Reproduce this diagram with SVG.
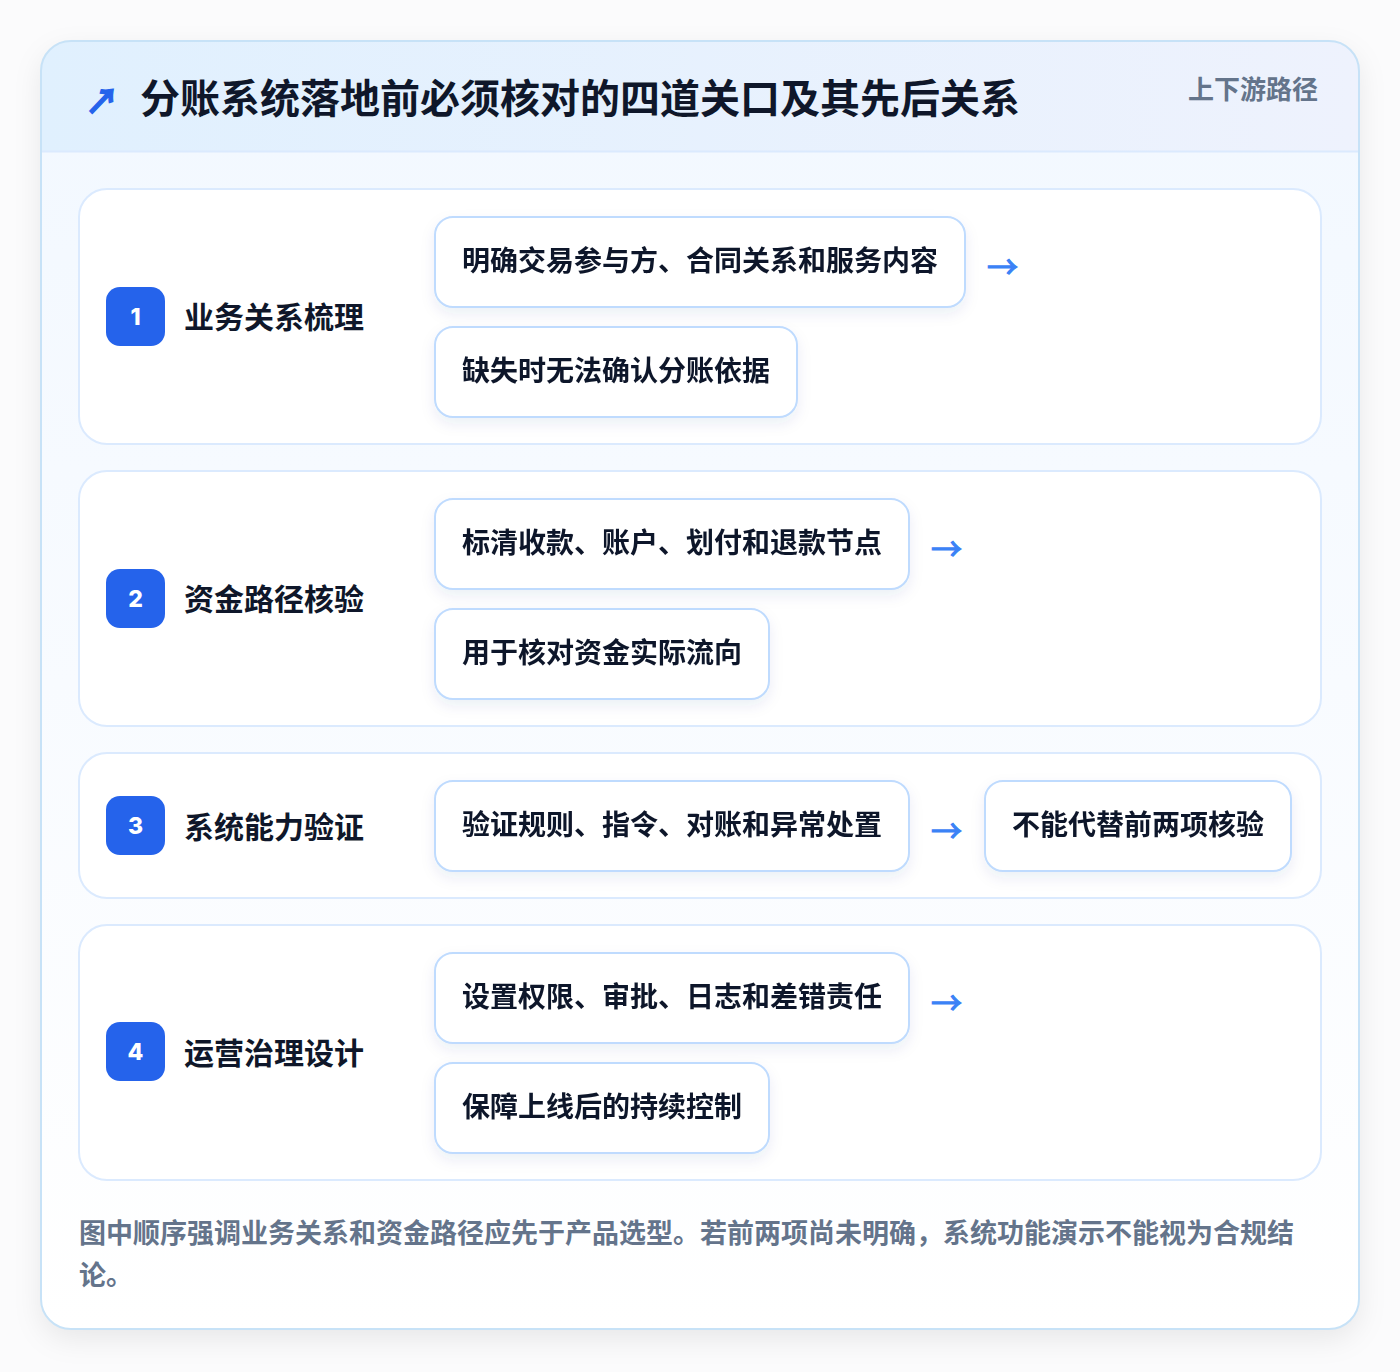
<svg xmlns="http://www.w3.org/2000/svg" width="1400" height="1372" viewBox="0 0 1400 1372">
<defs>
<style>
.cjk{font-family:"Noto Sans CJK SC","Noto Sans",sans-serif;font-weight:700}
.row{fill:#ffffff;stroke:#dbeafe;stroke-width:2}
.pill{fill:#ffffff;stroke:#bfdbfe;stroke-width:2}
.pt{font-size:28px;fill:#0f172a}
.lbl{font-size:30px;fill:#0f172a}
.badge{fill:#2563eb}
.bn{font-family:"Inter","Liberation Sans",sans-serif;font-weight:800;font-size:23px;fill:#ffffff}
.arr{font-family:"Noto Sans CJK SC",sans-serif;font-size:31px;fill:#3b82f6;stroke:#3b82f6;stroke-width:1.1}
</style>
<linearGradient id="hdr" x1="0" y1="0" x2="1" y2="0">
<stop offset="0" stop-color="#e0f0fe"/>
<stop offset="1" stop-color="#eef2fd"/>
</linearGradient>
<linearGradient id="body" x1="0" y1="0" x2="0" y2="1">
<stop offset="0" stop-color="#f2f8ff"/>
<stop offset="0.5" stop-color="#f8fbff"/>
<stop offset="1" stop-color="#ffffff"/>
</linearGradient>
<filter id="sh" x="-10%" y="-10%" width="120%" height="125%">
<feDropShadow dx="0" dy="10" stdDeviation="14" flood-color="#0f172a" flood-opacity="0.08"/>
</filter>
<filter id="psh" x="-10%" y="-20%" width="120%" height="160%">
<feDropShadow dx="0" dy="6" stdDeviation="7" flood-color="#1e3a8a" flood-opacity="0.08"/>
</filter>
<clipPath id="cardclip"><rect x="41" y="41" width="1318" height="1288" rx="30"/></clipPath>
</defs>
<rect width="1400" height="1372" fill="#fbfbfc"/>
<g id="card">
<rect x="41" y="41" width="1318" height="1288" rx="30" fill="url(#body)" filter="url(#sh)"/>
<g clip-path="url(#cardclip)">
<rect x="41" y="41" width="1318" height="111" fill="url(#hdr)"/>
<line x1="41" y1="151.5" x2="1359" y2="151.5" stroke="#dbeafe" stroke-width="2"/>
</g>
<rect x="41" y="41" width="1318" height="1288" rx="30" fill="none" stroke="#c7e2f7" stroke-width="2"/>
</g>
<g id="header">
<text x="85" y="114" font-family="Noto Sans CJK SC,sans-serif" font-size="34" fill="#2563eb" stroke="#2563eb" stroke-width="1.3" font-weight="700">↗</text>
<text x="140" y="113" class="cjk" font-size="40" fill="#0f172a">分账系统落地前必须核对的四道关口及其先后关系</text>
<text x="1318" y="99" class="cjk" font-size="26" fill="#64748b" text-anchor="end">上下游路径</text>
</g>

<g id="row1">
<rect class="row" x="79" y="189" width="1242" height="255" rx="28"/>
<rect class="badge" x="106" y="287" width="59" height="59" rx="14"/>
<text class="bn" x="135.5" y="325" text-anchor="middle">1</text>
<text class="cjk lbl" x="184" y="328">业务关系梳理</text>
</g>
<g id="row1-a" filter="url(#psh)">
<rect class="pill" x="435" y="217" width="530" height="90" rx="18"/>
<text class="cjk pt" x="462" y="271">明确交易参与方、合同关系和服务内容</text>
</g>
<g id="row1-b" filter="url(#psh)">
<rect class="pill" x="435" y="327" width="362" height="90" rx="18"/>
<text class="cjk pt" x="462" y="381">缺失时无法确认分账依据</text>
</g>

<g id="row2">
<rect class="row" x="79" y="471" width="1242" height="255" rx="28"/>
<rect class="badge" x="106" y="569" width="59" height="59" rx="14"/>
<text class="bn" x="135.5" y="607" text-anchor="middle">2</text>
<text class="cjk lbl" x="184" y="610">资金路径核验</text>
</g>
<g id="row2-a" filter="url(#psh)">
<rect class="pill" x="435" y="499" width="474" height="90" rx="18"/>
<text class="cjk pt" x="462" y="553">标清收款、账户、划付和退款节点</text>
</g>
<g id="row2-b" filter="url(#psh)">
<rect class="pill" x="435" y="609" width="334" height="90" rx="18"/>
<text class="cjk pt" x="462" y="663">用于核对资金实际流向</text>
</g>

<g id="row3">
<rect class="row" x="79" y="753" width="1242" height="145" rx="28"/>
<rect class="badge" x="106" y="796" width="59" height="59" rx="14"/>
<text class="bn" x="135.5" y="834" text-anchor="middle">3</text>
<text class="cjk lbl" x="184" y="838">系统能力验证</text>
</g>
<g id="row3-a" filter="url(#psh)">
<rect class="pill" x="435" y="781" width="474" height="90" rx="18"/>
<text class="cjk pt" x="462" y="835">验证规则、指令、对账和异常处置</text>
</g>
<g id="row3-b" filter="url(#psh)">
<rect class="pill" x="985" y="781" width="306" height="90" rx="18"/>
<text class="cjk pt" x="1012" y="835">不能代替前两项核验</text>
</g>

<g id="row4">
<rect class="row" x="79" y="925" width="1242" height="255" rx="28"/>
<rect class="badge" x="106" y="1022" width="59" height="59" rx="14"/>
<text class="bn" x="135.5" y="1060" text-anchor="middle">4</text>
<text class="cjk lbl" x="184" y="1064">运营治理设计</text>
</g>
<g id="row4-a" filter="url(#psh)">
<rect class="pill" x="435" y="953" width="474" height="90" rx="18"/>
<text class="cjk pt" x="462" y="1007">设置权限、审批、日志和差错责任</text>
</g>
<g id="row4-b" filter="url(#psh)">
<rect class="pill" x="435" y="1063" width="334" height="90" rx="18"/>
<text class="cjk pt" x="462" y="1117">保障上线后的持续控制</text>
</g>

<g id="connectors">
<text class="arr" x="987" y="278">→</text>
<text class="arr" x="931" y="560">→</text>
<text class="arr" x="931" y="842">→</text>
<text class="arr" x="931" y="1014">→</text>
</g>

<g id="footer">
<text class="cjk" font-size="27" fill="#64748b" x="79" y="1243">图中顺序强调业务关系和资金路径应先于产品选型。若前两项尚未明确，系统功能演示不能视为合规结</text>
<text class="cjk" font-size="27" fill="#64748b" x="79" y="1285">论。</text>
</g>
</svg>
